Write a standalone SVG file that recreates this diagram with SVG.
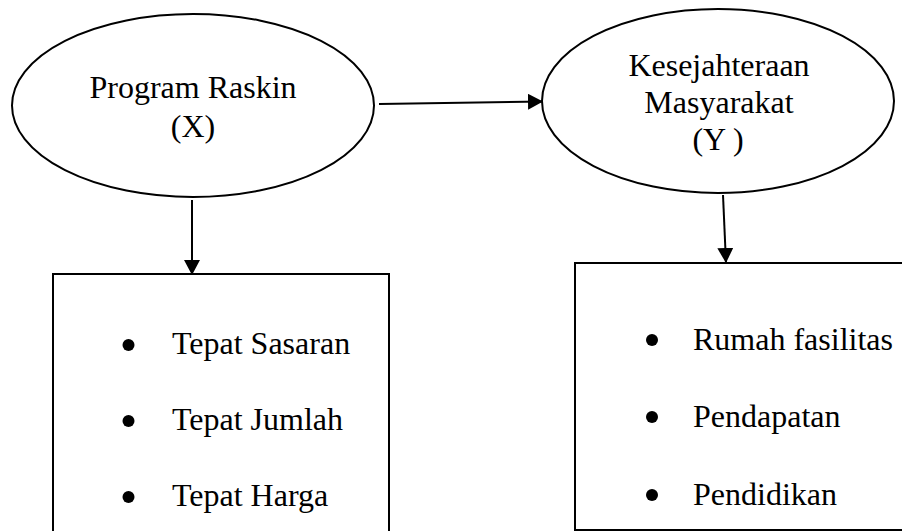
<svg xmlns="http://www.w3.org/2000/svg" width="902" height="531" viewBox="0 0 902 531">
<defs>
<style>
.shape{fill:#fff;stroke:#000;stroke-width:2}
.conn{fill:none;stroke:#000;stroke-width:2}
.c{text-anchor:middle}
.dot{fill:#000}
</style>
<marker id="ah" viewBox="0 0 15 16" refX="15" refY="8" markerWidth="15" markerHeight="16" markerUnits="userSpaceOnUse" orient="auto">
<path d="M0,0 L15,8 L0,16 Z" fill="#000"/>
</marker>
</defs>
<rect width="902" height="531" fill="#fff"/>
<g font-family="Liberation Serif, Times New Roman, DejaVu Serif, serif" font-size="32" fill="#000">
<g id="node-x">
<ellipse class="shape" cx="193" cy="105.5" rx="181" ry="91.5"/>
<text class="c" x="193" y="98">Program Raskin</text>
<text class="c" x="193" y="137">(X)</text>
</g>
<g id="node-y">
<ellipse class="shape" cx="718" cy="101" rx="176" ry="92"/>
<text class="c" x="719" y="76">Kesejahteraan</text>
<text class="c" x="719" y="113">Masyarakat</text>
<text class="c" x="718" y="150">(Y )</text>
</g>
<g id="box-x">
<path class="conn" d="M53,545 V274 H389 V545"/>
<circle class="dot" cx="128.5" cy="345" r="6"/>
<text x="172" y="354">Tepat Sasaran</text>
<circle class="dot" cx="128.5" cy="421" r="6"/>
<text x="172" y="430">Tepat Jumlah</text>
<circle class="dot" cx="128.5" cy="497" r="6"/>
<text x="172" y="506">Tepat Harga</text>
</g>
<g id="box-y">
<path class="conn" d="M910,263 H575 V530 H910"/>
<circle class="dot" cx="652" cy="340" r="6"/>
<text x="693" y="350">Rumah fasilitas</text>
<circle class="dot" cx="652" cy="417" r="6"/>
<text x="693" y="427">Pendapatan</text>
<circle class="dot" cx="652" cy="495" r="6"/>
<text x="693" y="505">Pendidikan</text>
</g>
</g>
<g id="connectors">
<line class="conn" x1="379" y1="104" x2="543" y2="101.5" marker-end="url(#ah)"/>
<line class="conn" x1="192" y1="200" x2="192" y2="275" marker-end="url(#ah)"/>
<line class="conn" x1="723" y1="195" x2="726" y2="263" marker-end="url(#ah)"/>
</g>
</svg>
